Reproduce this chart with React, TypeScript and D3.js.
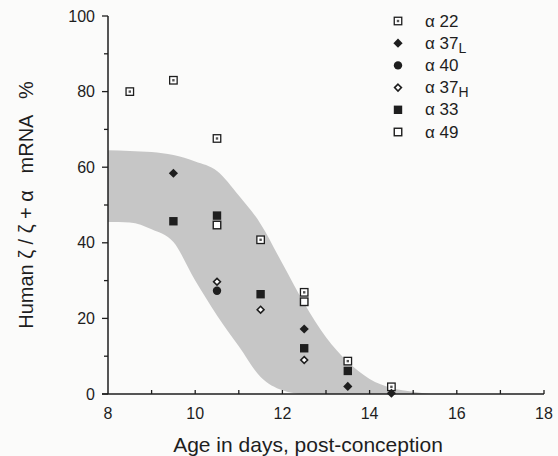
import React from 'react';
import * as d3 from 'd3';

// sampled days (x) and the % values per clone; null = not measured
const days = [8.5, 9.5, 10.5, 11.5, 12.5, 13.5, 14.5];
const a22 = [80, 83, 67.6, 40.8, 26.9, 8.7, 1.9];
const a37L = [null, 58.4, null, null, 17.2, 2.0, 0.2];
const a40 = [null, null, 27.3, null, null, null, null];
const a37H = [null, null, 29.7, 22.3, 9.0, null, null];
const a33 = [null, 45.7, 47.2, 26.4, 12.1, 6.1, null];
const a49 = [null, null, 44.7, null, 24.4, null, null];

// shaded envelope
const bandDays = [8, 8.5, 9, 9.5, 10, 10.5, 11, 11.5, 12, 12.5, 13, 13.5, 14, 14.5, 15, 15.4];
const bandLow = [45.5, 45.4, 43.6, 40.2, 30, 20.8, 12.6, 4.5, 1.0, 0, 0, 0, 0, 0, 0, 0];
const bandHigh = [64.5, 64.3, 64, 63.2, 61.5, 59, 52.5, 45, 34.5, 24, 15, 8.5, 4, 1.6, 0.6, 0];

const xTicks = [8, 10, 12, 14, 16, 18];
const yTicks = [0, 20, 40, 60, 80, 100];

const legend = [
  { name: '22', sub: '', kind: 'dotSquare', values: a22 },
  { name: '37', sub: 'L', kind: 'diamond', values: a37L },
  { name: '40', sub: '', kind: 'circle', values: a40 },
  { name: '37', sub: 'H', kind: 'openDiamond', values: a37H },
  { name: '33', sub: '', kind: 'square', values: a33 },
  { name: '49', sub: '', kind: 'openSquare', values: a49 },
];

const font = '"Liberation Sans", Arial, sans-serif';
const ink = '#1e1e1e';

function Marker({ kind, cx, cy }: { kind: string; cx: number; cy: number }) {
  const s = 7.5;
  const h = s / 2;
  if (kind === 'dotSquare')
    return (
      <g>
        <rect x={cx - h} y={cy - h} width={s} height={s} fill="#fff" stroke={ink} strokeWidth={1.3} />
        <rect x={cx - 1.2} y={cy - 1.2} width={2.4} height={2.4} fill="#555" />
      </g>
    );
  if (kind === 'openSquare')
    return <rect x={cx - h} y={cy - h} width={s} height={s} fill="#fff" stroke={ink} strokeWidth={1.4} />;
  if (kind === 'square')
    return <rect x={cx - 4.2} y={cy - 4.2} width={8.4} height={8.4} fill={ink} />;
  if (kind === 'circle') return <circle cx={cx} cy={cy} r={4.2} fill={ink} />;
  const d = 4.6;
  const pts = `${cx},${cy - d} ${cx + d},${cy} ${cx},${cy + d} ${cx - d},${cy}`;
  if (kind === 'diamond') return <polygon points={pts} fill={ink} />;
  const e = 3.4;
  return (
    <polygon
      points={`${cx},${cy - e} ${cx + e},${cy} ${cx},${cy + e} ${cx - e},${cy}`}
      fill="#fff"
      stroke={ink}
      strokeWidth={1.6}
    />
  );
}

export default function App() {
  const width = 558;
  const height = 456;
  const x = d3.scaleLinear().domain([8, 18]).range([108, 544]);
  const y = d3.scaleLinear().domain([0, 100]).range([394, 16]);

  const band = bandDays.map((d, i) => ({ d, lo: bandLow[i], hi: bandHigh[i] }));
  const area = d3
    .area<{ d: number; lo: number; hi: number }>()
    .x((p) => x(p.d))
    .y0((p) => y(p.lo))
    .y1((p) => y(p.hi))
    .curve(d3.curveMonotoneX);

  const minorX = d3.range(9, 19, 1);
  const minorY = d3.range(10, 100, 20);

  return (
    <svg
      width={width}
      height={height}
      style={{ position: 'absolute', left: 0, top: 0, background: '#fbfbfa' }}
      fontFamily={font}
    >
      <path d={area(band) ?? ''} fill="#c6c6c6" />

      {/* axes */}
      <line x1={x(8)} x2={x(8)} y1={y(100)} y2={y(0)} stroke={ink} strokeWidth={1.5} />
      <line x1={x(8) - 6} x2={x(18)} y1={y(0)} y2={y(0)} stroke={ink} strokeWidth={1.5} />
      {yTicks.map((t) => (
        <g key={t}>
          <line x1={x(8) - 6} x2={x(8)} y1={y(t)} y2={y(t)} stroke={ink} strokeWidth={1.3} />
          <text x={x(8) - 13} y={y(t) + 5.5} textAnchor="end" fontSize={16} fill={ink}>
            {t}
          </text>
        </g>
      ))}
      {minorY.map((t) => (
        <line key={t} x1={x(8) - 4} x2={x(8)} y1={y(t)} y2={y(t)} stroke={ink} strokeWidth={1.3} />
      ))}
      {minorX.map((t) => (
        <line key={t} x1={x(t)} x2={x(t)} y1={y(0)} y2={y(0) - 4} stroke={ink} strokeWidth={1.3} />
      ))}
      {xTicks.map((t) => (
        <text key={t} x={x(t)} y={y(0) + 25} textAnchor="middle" fontSize={16} fill={ink}>
          {t}
        </text>
      ))}

      <text x={308} y={452} textAnchor="middle" fontSize={21} fill={ink}>
        Age in days, post-conception
      </text>
      <text
        transform={`translate(33,${205}) rotate(-90)`}
        textAnchor="middle"
        fontSize={20}
        fill={ink}
        style={{ whiteSpace: 'pre' }}
      >
        {'Human ζ / ζ + α   mRNA   %'}
      </text>

      {/* points */}
      {legend.map((s) =>
        s.values.map((v, i) =>
          v === null ? null : <Marker key={s.kind + i} kind={s.kind} cx={x(days[i])} cy={y(v)} />
        )
      )}

      {/* legend */}
      {legend.map((s, i) => {
        const ly = 21 + i * 22.2;
        return (
          <g key={s.kind}>
            <Marker kind={s.kind} cx={398} cy={ly} />
            <text x={425} y={ly + 5.5} fontSize={17} fill={ink}>
              α {s.name}
              {s.sub ? (
                <tspan dy={4} fontSize={14}>
                  {s.sub}
                </tspan>
              ) : null}
            </text>
          </g>
        );
      })}
    </svg>
  );
}
